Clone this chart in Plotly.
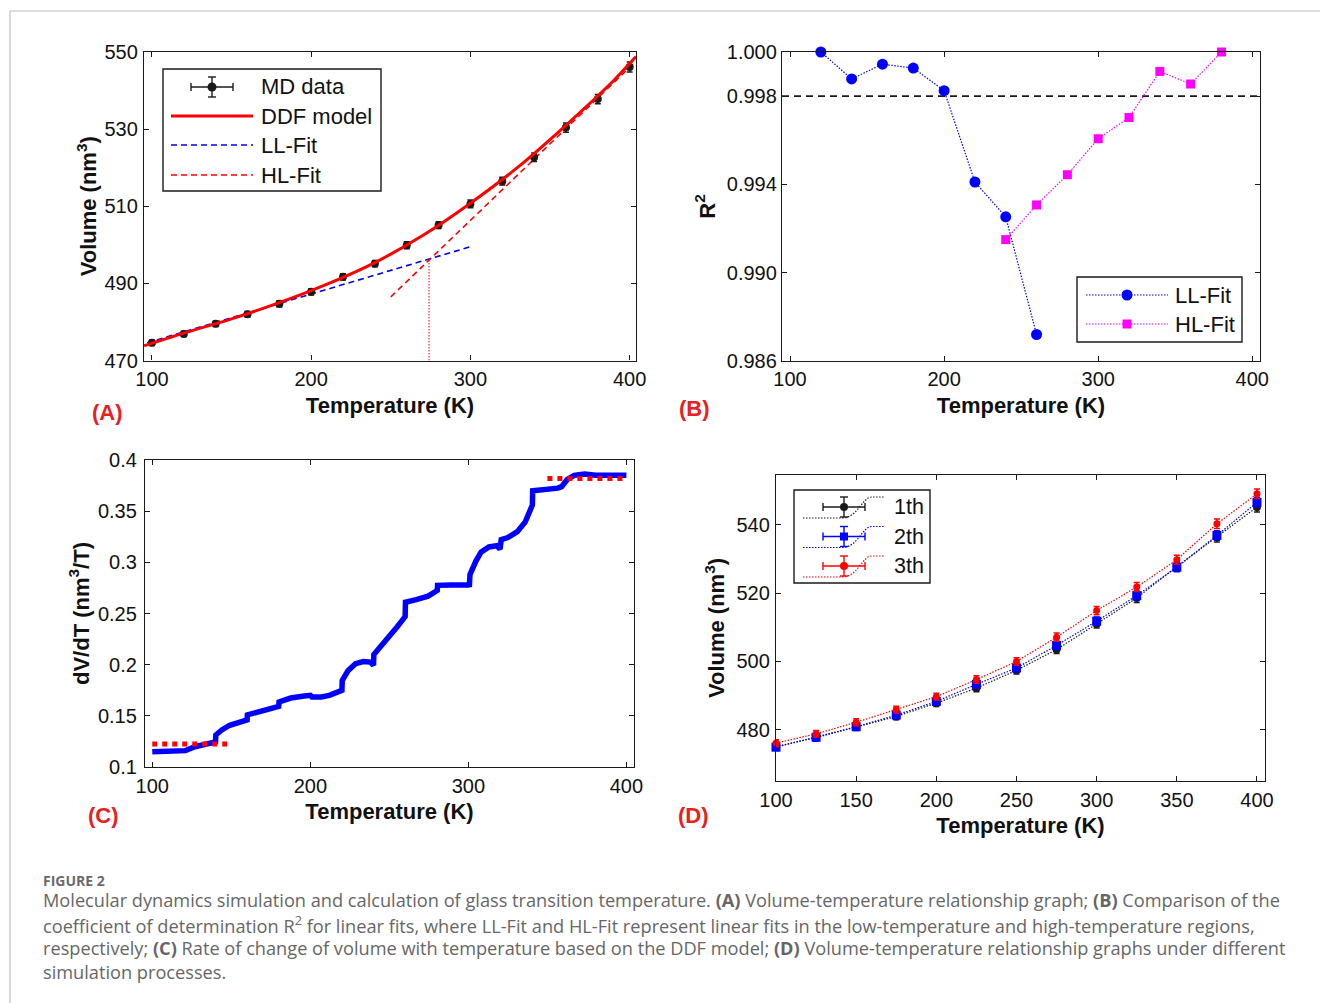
import plotly.graph_objects as go

W, H = 1320, 1003

# ---------------- Data ----------------
# (A) Volume vs temperature
T_md = [100, 120, 140, 160, 180, 200, 220, 240, 260, 280, 300, 320, 340, 360, 380, 400]
V_md = [474.6, 476.9, 479.5, 482.0, 484.7, 487.8, 491.7, 495.1, 499.9, 505.1, 510.6, 516.5, 522.7, 530.4, 537.8, 546.1]
V_md_err = [0.7, 0.7, 0.7, 0.7, 0.8, 0.8, 0.8, 0.8, 0.9, 0.9, 1.0, 1.0, 1.1, 1.2, 1.2, 1.3]
T_ddf = [95, 120, 150, 180, 210, 240, 270, 300, 330, 360, 390, 404]
V_ddf = [473.8, 477.1, 480.8, 485.0, 489.8, 495.4, 502.4, 510.8, 520.2, 531.0, 542.6, 548.8]
T_ll = [97, 300]
V_ll = [474.6, 499.5]
T_hl = [250, 404]
V_hl = [486.5, 547.6]
T_g = [274, 274]
V_g = [470, 496.2]

# (B) Coefficient of determination
T_llfit = [120, 140, 160, 180, 200, 220, 240, 260]
R2_llfit = [1.0000, 0.99878, 0.99945, 0.99927, 0.99825, 0.99411, 0.99253, 0.98720]
T_hlfit = [240, 260, 280, 300, 320, 340, 360, 380]
R2_hlfit = [0.99150, 0.99307, 0.99444, 0.99607, 0.99703, 0.99912, 0.99855, 1.0000]
R2_threshold = 0.998
B_xrange = [94.8, 405]

# (C) dV/dT from DDF model
T_rate = [100, 120, 121, 127, 134.5, 140, 140.2, 144, 149, 155, 160, 160.2, 168, 180, 180.2,
          187.6, 195, 200, 201, 207, 212, 216.6, 220, 220.2, 223.8, 228.6, 233.5, 238, 240, 240.2,
          248, 255, 260, 260.2, 267, 274.5, 280.3, 280.5, 289, 300, 300.6, 301, 304.7, 308, 313,
          318, 320, 320.8, 325, 331, 336, 339, 340.5, 340.7, 347, 356.6, 359, 362.6, 367, 373.5,
          380.7, 400]
dVdT = [0.1149, 0.1149, 0.1160, 0.1198, 0.1230, 0.1244, 0.1313, 0.1362, 0.1408, 0.1444, 0.1460, 0.1510,
        0.1543, 0.1592, 0.1635, 0.1674, 0.1691, 0.1700, 0.1684, 0.1684, 0.1700, 0.1722, 0.1750, 0.1845,
        0.1940, 0.2010, 0.2030, 0.2025, 0.1995, 0.2100, 0.2235, 0.2370, 0.2470, 0.2610, 0.2635, 0.2670,
        0.2725, 0.2775, 0.2778, 0.2780, 0.2760, 0.2880, 0.3010, 0.3100, 0.3150, 0.3162, 0.3130, 0.3222,
        0.3242, 0.3300, 0.3395, 0.3510, 0.3560, 0.3700, 0.3705, 0.3725, 0.3740, 0.3810, 0.3850, 0.3862,
        0.3852, 0.3850]
T_low = [100, 150]
rate_low = [0.1225, 0.1225]
T_high = [350, 400]
rate_high = [0.382, 0.382]

# (D) three simulation runs
T_run = [100, 125, 150, 175, 200, 225, 250, 275, 300, 325, 350, 375, 400]
V_run1 = [475.1, 477.7, 480.8, 483.9, 487.8, 492.2, 497.4, 503.5, 511.0, 518.6, 527.8, 536.4, 545.2]
V_run2 = [474.9, 477.8, 480.9, 484.3, 488.3, 493.3, 498.1, 504.7, 511.8, 519.3, 527.6, 536.9, 546.6]
V_run3 = [476.1, 478.8, 482.2, 485.9, 489.7, 494.7, 500.0, 507.1, 514.9, 521.8, 529.8, 540.3, 549.1]
err_run = [1.0, 1.0, 1.0, 1.0, 1.0, 1.1, 1.1, 1.2, 1.2, 1.3, 1.3, 1.4, 1.4]
run_names = ["1th", "2th", "3th"]

# ---------------- Styling helpers ----------------
FONT = "Liberation Sans, Arial, Helvetica, sans-serif"
BLACK = "#1a1a1a"
RED = "#ff0000"
BLUE = "#0000ff"
MAG = "#ff00ff"
LBL_RED = "#e8201e"
FS = 20      # tick labels
FT = 22      # axis titles
FL = 22      # legend text


def X(p):
    return p / W


def Y(p):
    return 1 - p / H


def axis_style(**kw):
    d = dict(showline=True, linecolor=BLACK, linewidth=1.3, mirror="allticks",
             ticks="inside", ticklen=5, tickwidth=1.2, tickcolor=BLACK,
             showgrid=False, zeroline=False, automargin=False,
             tickfont=dict(family=FONT, size=FS, color="#111"),
             title_font=dict(family=FONT, size=FT, color="#111"))
    d.update(kw)
    return d


fig = go.Figure()

# ---------------- Panel A ----------------
fig.add_trace(go.Scatter(x=T_ll, y=V_ll, mode="lines", xaxis="x", yaxis="y",
                         line=dict(color=BLUE, width=1.6, dash="6px,4px"), showlegend=False))
fig.add_trace(go.Scatter(x=T_hl, y=V_hl, mode="lines", xaxis="x", yaxis="y",
                         line=dict(color=RED, width=1.6, dash="6px,4px"), showlegend=False))
fig.add_trace(go.Scatter(x=T_g, y=V_g, mode="lines", xaxis="x", yaxis="y",
                         line=dict(color=RED, width=1, dash="1.5px,1.5px"), showlegend=False))
fig.add_trace(go.Scatter(x=T_md, y=V_md, mode="markers", xaxis="x", yaxis="y", cliponaxis=False,
                         marker=dict(color=BLACK, size=8, symbol="circle"),
                         error_y=dict(type="data", array=V_md_err, color=BLACK, thickness=1.5, width=3),
                         showlegend=False))
fig.add_trace(go.Scatter(x=T_ddf, y=V_ddf, mode="lines", xaxis="x", yaxis="y",
                         line=dict(color=RED, width=3, shape="spline", smoothing=0.8), showlegend=False))

# ---------------- Panel B ----------------
fig.add_trace(go.Scatter(x=B_xrange, y=[R2_threshold, R2_threshold], mode="lines", xaxis="x2", yaxis="y2",
                         line=dict(color=BLACK, width=1.6, dash="7px,5px"), showlegend=False))
fig.add_trace(go.Scatter(x=T_llfit, y=R2_llfit, mode="lines+markers", xaxis="x2", yaxis="y2", cliponaxis=False,
                         line=dict(color=BLUE, width=1.2, dash="1.5px,1.5px"),
                         marker=dict(color=BLUE, size=11, symbol="circle"), showlegend=False))
fig.add_trace(go.Scatter(x=T_hlfit, y=R2_hlfit, mode="lines+markers", xaxis="x2", yaxis="y2", cliponaxis=False,
                         line=dict(color=MAG, width=1.2, dash="1.5px,1.5px"),
                         marker=dict(color=MAG, size=9, symbol="square"), showlegend=False))

# ---------------- Panel C ----------------
fig.add_trace(go.Scatter(x=T_rate, y=dVdT, mode="lines", xaxis="x3", yaxis="y3",
                         line=dict(color=BLUE, width=5.5), showlegend=False))
fig.add_trace(go.Scatter(x=T_low, y=rate_low, mode="lines", xaxis="x3", yaxis="y3",
                         line=dict(color=RED, width=5, dash="dot"), showlegend=False))
fig.add_trace(go.Scatter(x=T_high, y=rate_high, mode="lines", xaxis="x3", yaxis="y3",
                         line=dict(color=RED, width=5, dash="dot"), showlegend=False))

# ---------------- Panel D ----------------
run_cols = [BLACK, BLUE, RED]
run_syms = ["circle", "square", "circle"]
run_sizes = [8, 9, 7]
for vals, col, sym, sz, nm in zip([V_run1, V_run2, V_run3], run_cols, run_syms, run_sizes, run_names):
    fig.add_trace(go.Scatter(x=T_run, y=vals, mode="lines+markers", xaxis="x4", yaxis="y4", name=nm,
                             cliponaxis=False,
                             line=dict(color=col, width=1.2, dash="1.5px,1.5px"),
                             marker=dict(color=col, size=sz, symbol=sym),
                             error_y=dict(type="data", array=err_run, color=col, thickness=1.5, width=3),
                             showlegend=False))

# ---------------- Axes ----------------
layout = dict(
    width=W, height=H, autosize=False,
    margin=dict(l=0, r=0, t=0, b=0, pad=0, autoexpand=False),
    paper_bgcolor="white", plot_bgcolor="white",
    showlegend=False,
    xaxis=axis_style(domain=[X(144), X(636)], range=[95, 404], tickvals=[100, 200, 300, 400],
                     anchor="y", ticklabelstandoff=0,
                     title=dict(text="<b>Temperature (K)</b>", standoff=8)),
    yaxis=axis_style(domain=[Y(360.5), Y(52)], range=[470, 550], tickvals=[470, 490, 510, 530, 550],
                     anchor="x", ticklabelstandoff=1,
                     title=dict(text="<b>Volume (nm<sup>3</sup>)</b>", standoff=1)),
    xaxis2=axis_style(domain=[X(782), X(1260)], range=B_xrange, tickvals=[100, 200, 300, 400],
                      anchor="y2", ticklabelstandoff=0,
                      title=dict(text="<b>Temperature (K)</b>", standoff=8)),
    yaxis2=axis_style(domain=[Y(361), Y(52)], range=[0.986, 1.000],
                      tickvals=[0.986, 0.990, 0.994, 0.998, 1.000],
                      ticktext=["0.986", "0.990", "0.994", "0.998", "1.000"],
                      anchor="x2", ticklabelstandoff=0,
                      title=dict(text="<b>R<sup>2</sup></b>", standoff=5)),
    xaxis3=axis_style(domain=[X(145), X(634)], range=[95.4, 404.8], tickvals=[100, 200, 300, 400],
                      anchor="y3", ticklabelstandoff=1,
                      title=dict(text="<b>Temperature (K)</b>", standoff=7)),
    yaxis3=axis_style(domain=[Y(767), Y(460)], range=[0.1, 0.4], dtick=0.05, tick0=0.1,
                      anchor="x3", ticklabelstandoff=3,
                      title=dict(text="<b>dV/dT (nm<sup>3</sup>/T)</b>", standoff=2)),
    xaxis4=axis_style(domain=[X(776), X(1265)], range=[100, 405],
                      tickvals=[100, 150, 200, 250, 300, 350, 400],
                      anchor="y4", ticklabelstandoff=1,
                      title=dict(text="<b>Temperature (K)</b>", standoff=7)),
    yaxis4=axis_style(domain=[Y(781), Y(475)], range=[465, 554.6], tickvals=[480, 500, 520, 540],
                      anchor="x4", ticklabelstandoff=1,
                      title=dict(text="<b>Volume (nm<sup>3</sup>)</b>", standoff=5)),
)
fig.update_layout(**layout)

shapes = []
annotations = []


def line(x0, y0, x1, y1, color=BLACK, width=1.3, dash="solid"):
    shapes.append(dict(type="line", xref="paper", yref="paper", x0=X(x0), y0=Y(y0), x1=X(x1), y1=Y(y1),
                       line=dict(color=color, width=width, dash=dash)))


def rect(x0, y0, x1, y1):
    shapes.append(dict(type="rect", xref="paper", yref="paper", x0=X(x0), y0=Y(y1), x1=X(x1), y1=Y(y0),
                       line=dict(color=BLACK, width=1.4), fillcolor="white", layer="above"))


def circle(cx, cy, r, color):
    shapes.append(dict(type="circle", xref="paper", yref="paper", x0=X(cx - r), x1=X(cx + r),
                       y0=Y(cy + r), y1=Y(cy - r), line=dict(color=color, width=0), fillcolor=color))


def square(cx, cy, r, color):
    shapes.append(dict(type="rect", xref="paper", yref="paper", x0=X(cx - r), x1=X(cx + r),
                       y0=Y(cy + r), y1=Y(cy - r), line=dict(color=color, width=0), fillcolor=color))


def errcross(cx, cy, hx, hy, color, cap=4):
    line(cx - hx, cy, cx + hx, cy, color, 1.4)
    line(cx - hx, cy - cap, cx - hx, cy + cap, color, 1.4)
    line(cx + hx, cy - cap, cx + hx, cy + cap, color, 1.4)
    line(cx, cy - hy, cx, cy + hy, color, 1.4)
    line(cx - cap, cy - hy, cx + cap, cy - hy, color, 1.4)
    line(cx - cap, cy + hy, cx + cap, cy + hy, color, 1.4)


def text(x, y, s, size=FL, color="#111", xanchor="left", family=FONT):
    annotations.append(dict(x=X(x), y=Y(y), xref="paper", yref="paper", text=s, showarrow=False,
                            xanchor=xanchor, yanchor="middle", font=dict(family=family, size=size, color=color)))


# Outer frame
line(10, 11, W, 11, "#bdbdbd", 1.2)
line(10, 11, 10, H, "#bdbdbd", 1.2)

# Legend A
rect(163, 69, 381, 191)
errcross(212, 87, 21, 10, BLACK)
circle(212, 87, 4.5, BLACK)
text(259, 87, "MD data")
line(171, 116, 253, 116, RED, 3)
text(259, 116, "DDF model")
line(171, 145, 253, 145, BLUE, 1.6, "6px,4px")
text(259, 145, "LL-Fit")
line(171, 175, 253, 175, RED, 1.6, "6px,4px")
text(259, 175, "HL-Fit")

# Legend B
rect(1077, 277, 1242, 342)
line(1086, 295, 1168, 295, BLUE, 1.2, "1.5px,1.5px")
circle(1127, 295, 5.5, BLUE)
text(1173, 295, "LL-Fit")
line(1086, 324, 1168, 324, MAG, 1.2, "1.5px,1.5px")
square(1127, 324, 4.5, MAG)
text(1173, 324, "HL-Fit")

# Legend D
rect(794, 490, 930, 583)
for i, (col, sym) in enumerate(zip(run_cols, run_syms)):
    cy = 507 + i * 29.5
    pts = [(803, cy + 11), (842, cy + 11), (858, cy + 11), (862, cy - 10), (872, cy - 10), (884, cy - 10)]
    p = "M {} {} L {} {} C {} {} {} {} {} {} L {} {}".format(
        X(pts[0][0]), Y(pts[0][1]), X(pts[1][0]), Y(pts[1][1]),
        X(pts[2][0]), Y(pts[2][1]), X(pts[3][0]), Y(pts[3][1]), X(pts[4][0]), Y(pts[4][1]),
        X(pts[5][0]), Y(pts[5][1]))
    shapes.append(dict(type="path", xref="paper", yref="paper", path=p,
                       line=dict(color=col, width=1.2, dash="1.5px,1.5px")))
    errcross(844, cy, 21, 10, col)
    if sym == "square":
        square(844, cy, 4, col)
    else:
        circle(844, cy, 4, col)
    text(892, cy, run_names[i], 21.5)

# Panel labels
text(107, 412, "<b>(A)</b>", 22, LBL_RED, "center")
text(694, 408, "<b>(B)</b>", 22, LBL_RED, "center")
text(104, 815, "<b>(C)</b>", 22, LBL_RED, "center")
text(693, 815, "<b>(D)</b>", 22, LBL_RED, "center")

# Caption
CAP = "Open Sans, Noto Sans, sans-serif"
CAPCOL = "#666666"
text(41, 880, "<b>FIGURE 2</b>", 14, "#6a6a6a", "left", CAP)
cap_lines = [
    "Molecular dynamics simulation and calculation of glass transition temperature. <b>(A)</b> Volume-temperature relationship graph; <b>(B)</b> Comparison of the",
    "coefficient of determination R<sup>2</sup> for linear fits, where LL-Fit and HL-Fit represent linear fits in the low-temperature and high-temperature regions,",
    "respectively; <b>(C)</b> Rate of change of volume with temperature based on the DDF model; <b>(D)</b> Volume-temperature relationship graphs under different",
    "simulation processes.",
]
for i, s in enumerate(cap_lines):
    text(41, 900 + 24 * i, s, 18.2, CAPCOL, "left", CAP)

fig.update_layout(shapes=shapes, annotations=annotations)

fig.write_html("out.html", config=dict(displayModeBar=False),
               post_script="document.body.style.margin='0px';")
